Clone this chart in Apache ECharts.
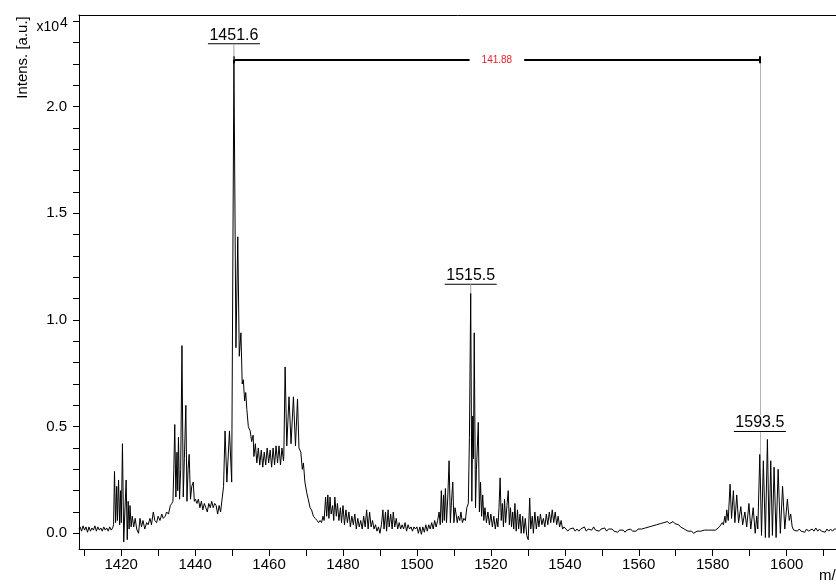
<!DOCTYPE html>
<html><head><meta charset="utf-8">
<script src="https://cdn.jsdelivr.net/npm/echarts@6/dist/echarts.min.js"></script>
<style>html,body{margin:0;padding:0;background:#fff}#c{width:836px;height:586px}</style>
</head><body><div id="c"></div>
<script>
// ---- spectrum data: [m/z, intensity (x10^4 a.u.)] ----
const segBase1 = [[1408.6,0.02],[1408.9,0.03],[1409.3,0.01],[1409.7,0.035],[1410.1,0.015],[1410.5,0.03],[1410.9,0.005],[1411.3,0.03],[1411.7,0.01],[1412.1,0.025],[1412.5,0.015],[1412.9,0.035],[1413.3,0.01],[1413.7,0.03],[1414.1,0.015],[1414.5,0.025],[1414.9,0.01],[1415.3,0.03],[1415.7,0.015],[1416.1,0.025],[1416.5,0.01],[1416.9,0.03],[1417.3,0.015],[1417.7,0.025]];
const seg1420 = [[1417.95,0.04],[1418.2,0.29],[1418.5,0.05],[1418.8,0.22],[1419.0,0.06],[1419.3,0.25],[1419.6,0.04],[1419.85,0.20],[1420.05,0.05],[1420.35,0.42],[1420.7,-0.04],[1421.0,0.10],[1421.35,0.25],[1421.65,-0.03],[1421.9,0.15],[1422.15,0.02],[1422.4,0.13],[1422.7,0.03],[1423.0,0.08]];
const segRise = [[1423.4,0.03],[1423.8,0.07],[1424.2,0.02],[1424.7,0.0],[1425.1,0.07],[1425.5,0.03],[1425.9,0.06],[1426.4,0.02],[1426.9,0.05],[1427.3,0.04],[1427.8,0.07],[1428.2,0.04],[1428.7,0.10],[1429.1,0.06],[1429.6,0.05],[1430.0,0.08],[1430.5,0.06],[1431.0,0.09],[1431.4,0.07],[1431.9,0.08],[1432.3,0.10],[1432.8,0.09],[1433.3,0.13],[1433.7,0.14]];
const seg1436 = [[1434.0,0.15],[1434.25,0.30],[1434.5,0.51],[1434.8,0.17],[1435.1,0.38],[1435.3,0.20],[1435.5,0.45],[1435.8,0.16],[1436.1,0.30],[1436.45,0.88],[1436.8,0.17],[1437.1,0.35],[1437.5,0.60],[1437.8,0.15],[1438.1,0.30],[1438.4,0.37],[1438.75,0.16],[1439.1,0.22],[1439.5,0.24],[1439.8,0.15],[1440.1,0.16]];
const segShelf = [[1440.5,0.14],[1440.9,0.16],[1441.3,0.12],[1441.7,0.15],[1442.1,0.11],[1442.5,0.14],[1442.9,0.12],[1443.3,0.10],[1443.7,0.14],[1444.1,0.12],[1444.5,0.15],[1444.9,0.12],[1445.3,0.14],[1445.7,0.13],[1446.1,0.09],[1446.5,0.13],[1446.9,0.10],[1447.3,0.16],[1447.7,0.22]];
const seg1451 = [[1448.1,0.48],[1448.6,0.24],[1449.3,0.48],[1449.9,0.24],[1450.5,2.22],[1451.05,0.87],[1451.55,1.39],[1451.95,0.83],[1452.4,0.94],[1452.75,0.70],[1453.05,0.72],[1453.4,0.62],[1453.7,0.66],[1454.0,0.58],[1454.4,0.50],[1454.9,0.48],[1455.3,0.43],[1455.7,0.46]];
const segPlateau = [[1455.9,0.36],[1456.3,0.42],[1456.7,0.33],[1457.1,0.40],[1457.5,0.32],[1457.9,0.39],[1458.3,0.31],[1458.7,0.38],[1459.1,0.32],[1459.5,0.40],[1459.9,0.33],[1460.3,0.39],[1460.7,0.31],[1461.1,0.40],[1461.5,0.32],[1461.9,0.41],[1462.3,0.33],[1462.7,0.41],[1463.1,0.32],[1463.5,0.40],[1463.9,0.34]];
const seg1465 = [[1464.0,0.36],[1464.35,0.78],[1464.8,0.41],[1465.4,0.64],[1465.95,0.42],[1466.6,0.64],[1467.15,0.41],[1467.7,0.63],[1468.1,0.40],[1468.6,0.38],[1469.0,0.30],[1469.3,0.33],[1469.7,0.24],[1470.2,0.19],[1470.6,0.16],[1471.1,0.12],[1471.5,0.11],[1472.0,0.08],[1472.5,0.07],[1473.0,0.06],[1473.4,0.05],[1473.8,0.06],[1474.2,0.05],[1474.6,0.08]];
const segNoise1 = [[1474.9,0.06],[1475.3,0.17],[1475.6,0.08],[1475.9,0.18],[1476.2,0.07],[1476.5,0.17],[1476.8,0.09],[1477.2,0.13],[1477.5,0.06],[1477.8,0.17],[1478.2,0.08],[1478.5,0.14],[1478.9,0.06],[1479.3,0.12],[1479.6,0.05],[1480.0,0.13],[1480.4,0.04],[1480.8,0.11],[1481.2,0.05],[1481.6,0.10],[1482.0,0.03],[1482.4,0.08],[1482.8,0.04],[1483.2,0.09],[1483.6,0.02],[1484.0,0.07],[1484.4,0.03],[1484.8,0.06],[1485.2,0.02],[1485.6,0.08],[1486.0,0.03],[1486.4,0.11],[1486.8,0.02],[1487.2,0.10],[1487.6,0.03],[1488.0,0.06],[1488.4,0.02],[1488.8,0.04],[1489.2,0.01],[1489.6,0.03],[1490.0,0.00],[1490.4,0.04],[1490.8,0.11],[1491.1,0.02],[1491.5,0.10],[1491.8,0.01],[1492.2,0.11],[1492.5,0.03],[1492.9,0.09],[1493.3,0.02],[1493.6,0.10],[1494.0,0.03],[1494.4,0.07],[1494.8,0.02],[1495.2,0.05],[1495.6,0.02],[1496.0,0.04],[1496.4,0.02],[1496.8,0.05],[1497.2,0.01],[1497.6,0.04],[1498.0,0.02],[1498.4,0.03],[1498.8,0.01],[1499.2,0.03],[1499.6,0.02],[1500.0,0.03],[1500.4,0.00],[1500.8,0.03],[1501.2,-0.005],[1501.6,0.03],[1502.0,0.005],[1502.4,0.04],[1502.8,0.01],[1503.2,0.04],[1503.6,0.02],[1504.0,0.05],[1504.4,0.02],[1504.8,0.06],[1505.2,0.03]];
const seg1508 = [[1505.6,0.06],[1506.0,0.10],[1506.3,0.04],[1506.6,0.20],[1506.9,0.05],[1507.2,0.18],[1507.4,0.06],[1507.7,0.21],[1508.0,0.05],[1508.35,0.17],[1508.7,0.34],[1509.05,0.05],[1509.35,0.15],[1509.7,0.24],[1510.0,0.05],[1510.3,0.12],[1510.6,0.09],[1510.9,0.05],[1511.2,0.08],[1511.6,0.06],[1511.9,0.10],[1512.3,0.05],[1512.7,0.07],[1513.1,0.06],[1513.5,0.12]];
const seg1515 = [[1513.9,0.14],[1514.2,0.45],[1514.55,1.125],[1514.85,0.15],[1515.1,0.55],[1515.3,0.35],[1515.5,0.94],[1515.85,0.12],[1516.1,0.30],[1516.6,0.52],[1516.9,0.10],[1517.2,0.24],[1517.5,0.08],[1517.8,0.18],[1518.1,0.06],[1518.4,0.12],[1518.8,0.05]];
const segTail = [[1519.2,0.10],[1519.6,0.04],[1520.0,0.09],[1520.4,0.03],[1520.8,0.08],[1521.2,0.02],[1521.6,0.07],[1521.9,0.03],[1522.2,0.12],[1522.5,0.26],[1522.8,0.06],[1523.1,0.14],[1523.4,0.03],[1523.7,0.16],[1524.0,0.05],[1524.35,0.13],[1524.7,0.20],[1525.0,0.04],[1525.3,0.12],[1525.6,0.03],[1525.9,0.10],[1526.2,0.02],[1526.5,0.14],[1526.85,0.01],[1527.2,0.11],[1527.5,0.02],[1527.9,0.09],[1528.2,0.00],[1528.6,0.08],[1528.9,0.0],[1529.3,0.07],[1529.7,-0.01],[1530.1,-0.03],[1530.5,0.165],[1530.8,0.02],[1531.2,0.08],[1531.5,0.00],[1531.9,0.10],[1532.3,0.02],[1532.7,0.08],[1533.0,0.03],[1533.4,0.09],[1533.8,0.04],[1534.2,0.07],[1534.6,0.03],[1535.0,0.09],[1535.4,0.04],[1535.8,0.10],[1536.2,0.05],[1536.6,0.11],[1537.0,0.05],[1537.4,0.10],[1537.8,0.04],[1538.2,0.08],[1538.6,0.03],[1539.0,0.06],[1539.4,0.02],[1539.8,0.03]];
const segFlat = [[1540.3,0.02],[1540.8,0.01],[1541.3,0.02],[1541.8,0.015],[1542.3,0.025],[1542.8,0.01],[1543.3,0.02],[1543.8,0.01],[1544.3,0.02],[1544.8,0.015],[1545.3,0.03],[1545.8,0.01],[1546.3,0.02],[1546.8,0.025],[1547.3,0.015],[1547.8,0.03],[1548.3,0.015],[1548.8,0.02],[1549.3,0.01],[1549.8,0.02],[1550.3,0.015],[1550.8,0.025],[1551.3,0.01],[1551.8,0.02],[1552.3,0.015],[1552.8,0.02],[1553.3,0.01],[1553.8,0.015],[1554.3,0.005],[1554.8,0.015],[1555.3,0.01],[1555.8,0.015],[1556.3,0.005],[1556.8,0.015],[1557.3,0.01],[1557.8,0.02],[1558.3,0.01],[1558.8,0.015],[1559.3,0.01],[1559.8,0.02],[1560.3,0.015],[1560.8,0.02],[1561.3,0.02],[1561.8,0.025],[1562.3,0.02],[1562.8,0.03],[1563.3,0.025],[1563.8,0.035],[1564.3,0.03],[1564.8,0.04],[1565.3,0.035],[1565.8,0.045],[1566.3,0.04],[1566.8,0.05],[1567.3,0.045],[1567.8,0.055],[1568.3,0.045],[1568.8,0.05],[1569.3,0.055],[1569.8,0.045],[1570.3,0.05],[1570.8,0.04],[1571.3,0.03],[1571.8,0.025],[1572.3,0.02],[1572.8,0.015],[1573.3,0.01],[1573.8,0.005],[1574.3,0.01],[1574.8,0.0],[1575.3,0.005],[1575.8,0.01],[1576.3,0.005],[1576.8,0.01],[1577.3,0.01],[1577.8,0.015],[1578.3,0.01],[1578.8,0.015],[1579.3,0.02],[1579.8,0.015],[1580.3,0.02],[1580.8,0.015],[1581.3,0.02],[1581.8,0.03]];
const seg1593 = [[1582.2,0.03],[1582.6,0.05],[1582.9,0.04],[1583.3,0.08],[1583.55,0.05],[1583.8,0.11],[1584.2,0.06],[1584.7,0.23],[1585.1,0.07],[1585.6,0.20],[1586.0,0.05],[1586.5,0.18],[1587.0,0.05],[1587.6,0.125],[1588.1,0.04],[1588.7,0.10],[1589.2,0.03],[1589.8,0.14],[1590.3,0.02],[1590.95,0.12],[1591.5,0.00],[1591.9,0.08],[1592.2,0.02],[1592.75,0.37],[1593.2,-0.01],[1593.7,0.34],[1594.25,-0.02],[1594.8,0.44],[1595.25,-0.02],[1595.7,0.34],[1596.15,-0.01],[1596.6,0.31],[1597.15,-0.02],[1597.7,0.30],[1598.3,0.0],[1598.9,0.22],[1599.5,0.02],[1600.2,0.16],[1600.7,0.06],[1601.1,0.09],[1601.5,0.03],[1601.9,0.015]];
const segBase2 = [[1602.4,0.02],[1602.9,0.01],[1603.4,0.02],[1603.9,0.01],[1604.4,0.015],[1604.9,0.005],[1605.4,0.02],[1605.9,0.01],[1606.4,0.015],[1606.9,0.02],[1607.4,0.01],[1607.9,0.025],[1608.4,0.01],[1608.9,0.02],[1609.4,0.01],[1609.9,0.015],[1610.4,0.005],[1610.9,0.02],[1611.4,0.01],[1611.9,0.02],[1612.4,0.01],[1612.9,0.02],[1613.4,0.015],[1613.9,0.02]];

// ---- ticks & labels ----
const xTickValues = [1410,1420,1430,1440,1450,1460,1470,1480,1490,1500,1510,1520,1530,1540,1550,1560,1570,1580,1590,1600,1610];
const xLabelValues = [1420,1440,1460,1480,1500,1520,1540,1560,1580,1600];
const yTickValues = [0,0.1,0.2,0.3,0.4,0.5,0.6,0.7,0.8,0.9,1.0,1.1,1.2,1.3,1.4,1.5,1.6,1.7,1.8,1.9,2.0,2.1,2.2,2.3,2.4];
const yLabelValues = [0,0.5,1.0,1.5,2.0];

// ---- annotations ----
const peakMz = [1450.5, 1514.55, 1592.75];
const peakText = ['1451.6', '1515.5', '1593.5'];
const measureText = '141.88';

const spectrum = [].concat(segBase1, seg1420, segRise, seg1436, segShelf, seg1451, segPlateau, seg1465, segNoise1, seg1508, seg1515, segTail, segFlat, seg1593, segBase2);

function peakY(mz) {
  let best = spectrum[0];
  for (const p of spectrum) if (Math.abs(p[0] - mz) < Math.abs(best[0] - mz)) best = p;
  return best[1];
}

const FONT = 'Liberation Sans, Arial, sans-serif';
const X_MIN = 1408.6, X_MAX = 1613.35;
const lifts = [16, 9, 23];
const peakYs = peakMz.map(peakY);
const xL = peakMz[0], xR = peakMz[2], yTop = peakYs[0], yR = peakYs[2];

const markPointData = [];
peakMz.forEach((mz, i) => {
  const lift = lifts[i];
  markPointData.push({
    coord: [mz, peakYs[i]], symbol: 'rect', symbolSize: [52, 1], symbolOffset: [0, -lift],
    itemStyle: { color: '#000' },
    label: { show: true, position: 'top', distance: 0, formatter: peakText[i], color: '#000',
      fontSize: 16, fontFamily: FONT, backgroundColor: i === 2 ? '#fff' : 'transparent', padding: [0, 2, 0, 2] }
  });
  if (i < 2) {
    markPointData.push({
      coord: [mz, peakYs[i]], symbol: 'rect', symbolSize: [1, lift], symbolOffset: [0, -lift / 2],
      itemStyle: { color: '#a0a0a0' }, label: { show: false }
    });
  }
});

const chart = echarts.init(document.getElementById('c'), null, { renderer: 'canvas' });
chart.setOption({
  animation: false,
  backgroundColor: '#fff',
  grid: { left: 79, top: 15, right: 0, bottom: 37, show: false, containLabel: false },
  xAxis: [{
    type: 'value', min: X_MIN, max: X_MAX,
    axisLine: { show: true, onZero: false, lineStyle: { color: '#000', width: 1 } },
    axisTick: { show: true, customValues: xTickValues, length: 7, lineStyle: { color: '#000' } },
    axisLabel: { show: true, customValues: xLabelValues, color: '#000', fontSize: 15, fontFamily: FONT, margin: 8,
      formatter: v => String(v) },
    splitLine: { show: false }
  }, {
    type: 'value', min: X_MIN, max: X_MAX, position: 'top',
    axisLine: { show: true, onZero: false, lineStyle: { color: '#000', width: 1 } },
    axisTick: { show: false }, axisLabel: { show: false }, splitLine: { show: false }
  }],
  yAxis: {
    type: 'value', min: -0.0736, max: 2.4299,
    axisLine: { show: true, onZero: false, lineStyle: { color: '#000', width: 1 } },
    axisTick: { show: true, customValues: yTickValues, length: 6, lineStyle: { color: '#000' } },
    axisLabel: { show: true, customValues: yLabelValues, color: '#000', fontSize: 15, fontFamily: FONT, margin: 12,
      formatter: v => v.toFixed(1) },
    splitLine: { show: false }
  },
  graphic: [
    { type: 'text', x: 22.5, y: 57.5, rotation: Math.PI / 2,
      style: { text: 'Intens. [a.u.]', font: '15px ' + FONT, fill: '#000', align: 'center', verticalAlign: 'middle' } },
    { type: 'text', x: 36.5, y: 27.5, style: { text: 'x10', font: '14px ' + FONT, fill: '#000', align: 'left', verticalAlign: 'middle' } },
    { type: 'text', x: 60, y: 23.5, style: { text: '4', font: '14px ' + FONT, fill: '#000', align: 'left', verticalAlign: 'middle' } },
    { type: 'text', x: 819, y: 568, style: { text: 'm/z', font: '15px ' + FONT, fill: '#000', align: 'left', verticalAlign: 'top' } }
  ],
  series: [{
    type: 'line', data: spectrum, symbol: 'none', showSymbol: false, silent: true,
    xAxisIndex: 0, yAxisIndex: 0,
    lineStyle: { color: '#000', width: 1 },
    markLine: {
      z: 5, silent: true, symbol: ['none', 'none'], animation: false,
      label: { show: false },
      data: [
        [{ coord: [xR, yR], lineStyle: { color: '#b4b4b4', width: 1, type: 'solid' } }, { coord: [xR, yTop] }],
        [{ coord: [xL, yTop], lineStyle: { color: '#000', width: 2, type: 'solid' },
           label: { show: true, position: 'middle', distance: 0, verticalAlign: 'middle', formatter: measureText,
                    color: '#e5202e', fontSize: 10, fontFamily: FONT, backgroundColor: '#fff', padding: [2, 12, 2, 12] } },
         { coord: [xR, yTop] }],
        [{ coord: [xL, yTop - 0.016], lineStyle: { color: '#000', width: 2, type: 'solid' } }, { coord: [xL, yTop + 0.016] }],
        [{ coord: [xR, yTop - 0.016], lineStyle: { color: '#000', width: 2, type: 'solid' } }, { coord: [xR, yTop + 0.016] }]
      ]
    },
    markPoint: { z: 6, silent: true, animation: false, label: { show: false }, data: markPointData }
  }]
});
</script></body></html>
